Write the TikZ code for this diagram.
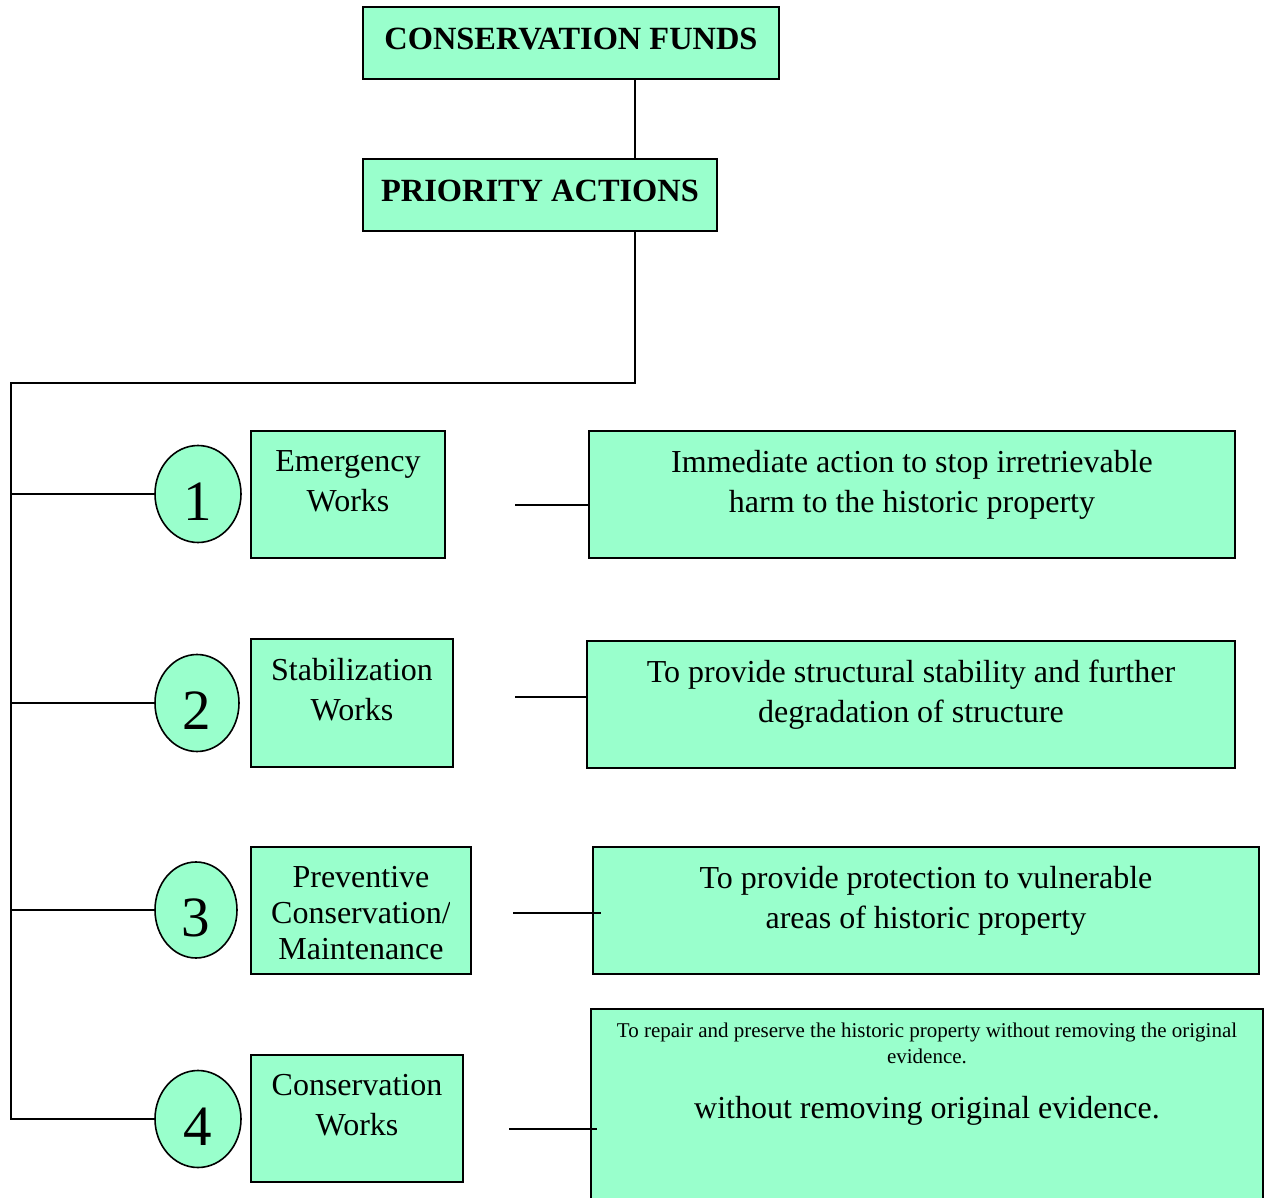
\documentclass[tikz,border=0pt]{standalone}
\usepackage{fontspec}
\setmainfont{Liberation Serif}
\usetikzlibrary{shapes.geometric,calc}
\definecolor{fundgreen}{HTML}{99FFCC}
\begin{document}
\begin{tikzpicture}[x=1pt,y=-1pt,
  box/.style={draw=black,fill=fundgreen,line width=2pt,inner sep=0pt,outer sep=0pt,anchor=north west},
  title/.style={font=\fontsize{32.4}{40}\selectfont\bfseries,text depth=8pt},
  body/.style={font=\fontsize{32}{40}\selectfont,align=center,anchor=north,inner sep=0pt},
  tight/.style={font=\fontsize{32}{36}\selectfont},
  small/.style={font=\fontsize{21}{26}\selectfont,align=center,anchor=north,inner sep=0pt},
  badge/.style={ellipse,draw=black,fill=fundgreen,line width=1.6pt,inner sep=0pt,outer sep=0pt},
  digit/.style={font=\fontsize{57}{57}\selectfont,inner sep=0pt},
  link/.style={line width=2pt}]
\useasboundingbox (0,0) rectangle (1264,1198);

% headline boxes
\node[box,title,minimum width=416,minimum height=72] (funds) at (363,7) {CONSERVATION FUNDS};
\node[box,title,minimum width=354,minimum height=72] (prio) at (363,159) {PRIORITY ACTIONS};

% spine and trunk geometry
\coordinate (spine) at (635,0);
\coordinate (trunktop) at (11,383);

% numbered badges
\node[badge,minimum width=86,minimum height=97] (c1) at (198,494) {};
\node[badge,minimum width=84,minimum height=97] (c2) at (197,703) {};
\node[badge,minimum width=82,minimum height=96] (c3) at (196,910) {};
\node[badge,minimum width=86,minimum height=97] (c4) at (198,1119) {};
\node[digit] (n1) at ($(c1.center)+(0,8)$) {1};
\node[digit] (n2) at ($(c2.center)+(0,8)$) {2};
\node[digit] (n3) at ($(c3.center)+(0,8)$) {3};
\node[digit] (n4) at ($(c4.center)+(0,8)$) {4};

% category boxes
\node[box,minimum width=194,minimum height=127] (l1) at (251,431) {};
\node[box,minimum width=202,minimum height=128] (l2) at (251,639) {};
\node[box,minimum width=220,minimum height=127] (l3) at (251,847) {};
\node[box,minimum width=212,minimum height=127] (l4) at (251,1055) {};

\begin{scope}
  \clip (l1.north west) rectangle ($(l1.south east)+(-24,0)$);
  \node[body] (t1) at ($(l1.north)+(0,19)$) {Emergency\\Works};
\end{scope}
\begin{scope}
  \clip (l2.north west) rectangle ($(l2.south east)+(-22,0)$);
  \node[body] (t2) at ($(l2.north)+(0,19)$) {Stabilization\\Works};
\end{scope}
\begin{scope}
  \clip (l3.north west) rectangle ($(l3.south east)+(-22,0)$);
  \node[body,tight] (t3) at ($(l3.north)+(0,19)$) {Preventive\\Conservation/\\Maintenance};
\end{scope}
\begin{scope}
  \clip (l4.north west) rectangle ($(l4.south east)+(-22,0)$);
  \node[body] (t4) at ($(l4.north)+(0,19)$) {Conservation\\Works};
\end{scope}

% description boxes
\node[box,minimum width=646,minimum height=127] (r1) at (589,431) {};
\node[box,minimum width=648,minimum height=127] (r2) at (587,641) {};
\node[box,minimum width=666,minimum height=127] (r3) at (593,847) {};
\node[box,minimum width=672,minimum height=205] (r4) at (591,1009) {};

\node[body] (d1) at ($(r1.north)+(0,19)$) {Immediate action to stop irretrievable\\harm to the historic property};
\node[body] (d2) at ($(r2.north)+(0,19)$) {To provide structural stability and further\\degradation of structure};
\node[body] (d3) at ($(r3.north)+(0,19)$) {To provide protection to vulnerable\\areas of historic property};
\node[small] (d4a) at ($(r4.north)+(0,14)$) {To repair and preserve the historic property without removing the original\\evidence.};
\node[body] (d4b) at ($(r4.north)+(0,87)$) {without removing original evidence.};

% connectors
\draw[link] (funds.south -| spine) -- (prio.north -| spine);
\draw[link] (prio.south -| spine) |- (trunktop) -- (c4.west -| trunktop) -- (c4.west);
\draw[link] (c1.west -| trunktop) -- (c1.west);
\draw[link] (c2.west -| trunktop) -- (c2.west);
\draw[link] (c3.west -| trunktop) -- (c3.west);

\coordinate (s1) at (515,505);
\coordinate (s2) at (515,697);
\coordinate (s3) at (513,913);
\coordinate (s4) at (509,1129);
\draw[link] (s1) -- (s1 -| r1.west);
\draw[link] (s2) -- (s2 -| r2.west);
\draw[link] (s3) -- ($(s3 -| r3.west)+(8,0)$);
\draw[link] (s4) -- ($(s4 -| r4.west)+(6,0)$);
\end{tikzpicture}
\end{document}
